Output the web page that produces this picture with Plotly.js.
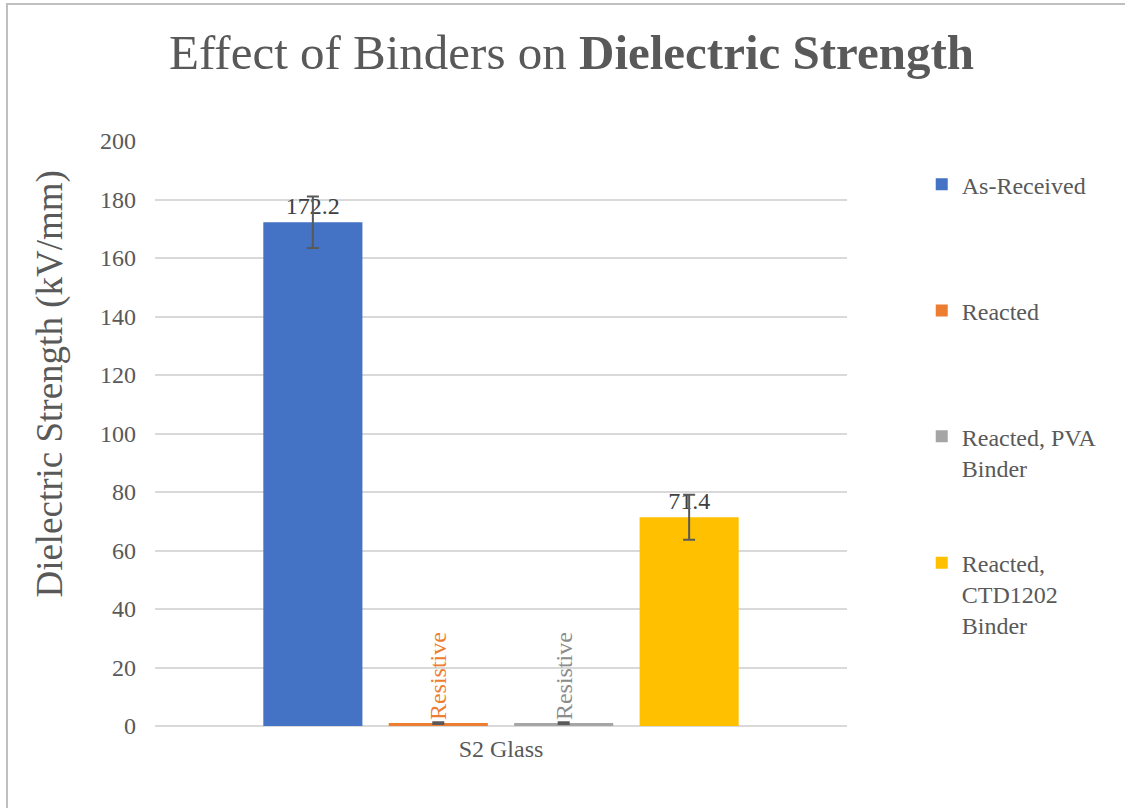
<!DOCTYPE html>
<html>
<head>
<meta charset="utf-8">
<script src="https://cdn.plot.ly/plotly-3.0.1.min.js"></script>
<style>
  html, body { margin: 0; padding: 0; background: #ffffff; overflow: hidden; }
  #chart { width: 1125px; height: 808px; }
  #frame { position: absolute; left: 6px; top: 3px; width: 1300px; height: 1000px;
           border: 2px solid #bfbfbf; pointer-events: none; box-sizing: border-box; }
</style>
</head>
<body>
<div id="chart"></div>
<div id="frame"></div>
<script>
// ---- data ----
const categories = ['S2 Glass'];
const seriesNames = ['As-Received', 'Reacted', 'Reacted, PVA<br>Binder', 'Reacted,<br>CTD1202<br>Binder'];
const seriesValues = [172.2, 1.0, 1.0, 71.4];
const seriesErrors = [8.8, 0.3, 0.3, 7.7];
const seriesLabels = ['172.2', 'Resistive', 'Resistive', '71.4'];
const yTickValues = [0, 20, 40, 60, 80, 100, 120, 140, 160, 180, 200];

// ---- styles ----
const colors = ['#4472C4', '#ED7D31', '#A5A5A5', '#FFC000'];
const labelColors = ['#404040', '#ED7D31', '#8c8c8c', '#404040'];
const labelAngles = [0, -90, -90, 0];
const legendIds = ['legend', 'legend2', 'legend3', 'legend4'];
const FONT = 'Liberation Serif';
const TXT = '#595959';

const traces = seriesNames.map((name, i) => ({
  type: 'bar',
  name: name,
  x: categories,
  y: [seriesValues[i]],
  text: [seriesLabels[i]],
  textposition: 'outside',
  textangle: labelAngles[i],
  cliponaxis: false,
  textfont: { family: FONT, size: 24, color: labelColors[i] },
  marker: { color: colors[i] },
  error_y: { type: 'data', array: [seriesErrors[i]], visible: true, color: '#595959', thickness: 2, width: 6 },
  legend: legendIds[i],
  hoverinfo: 'none'
}));

const legendX = 1.108;
const legendYs = [0.964, 0.748, 0.533, 0.317];
const legendBase = (y) => ({
  x: legendX, y: y, xanchor: 'left', yanchor: 'top',
  font: { family: FONT, size: 24, color: TXT },
  bgcolor: 'rgba(0,0,0,0)', borderwidth: 0, valign: 'top', itemwidth: 30
});

const layout = {
  width: 1125, height: 808,
  paper_bgcolor: '#ffffff', plot_bgcolor: '#ffffff',
  margin: { l: 155, r: 278, t: 141, b: 82 },
  title: {
    text: 'Effect of Binders on <b>Dielectric Strength</b>',
    font: { family: FONT, size: 49, color: TXT },
    xref: 'container', x: 0.508, xanchor: 'center',
    yref: 'container', y: 0.936, yanchor: 'middle'
  },
  barmode: 'group',
  bargap: 0.275,
  bargroupgap: 0.21,
  showlegend: true,
  legend: legendBase(legendYs[0]),
  legend2: legendBase(legendYs[1]),
  legend3: legendBase(legendYs[2]),
  legend4: legendBase(legendYs[3]),
  xaxis: {
    type: 'category',
    showgrid: false, zeroline: false, showline: false, ticks: '',
    tickfont: { family: FONT, size: 24, color: TXT },
    ticklabelstandoff: 6,
    fixedrange: true
  },
  yaxis: {
    range: [0, 200],
    tickvals: yTickValues,
    ticktext: yTickValues.map(String),
    showgrid: true, gridcolor: '#d9d9d9', gridwidth: 1.5,
    zeroline: true, zerolinecolor: '#d9d9d9', zerolinewidth: 1.5,
    showline: false, ticks: '',
    tickfont: { family: FONT, size: 24, color: TXT },
    ticklabelstandoff: 18,
    fixedrange: true
  },
  annotations: [{
    text: 'Dielectric Strength (kV/mm)',
    xref: 'paper', yref: 'paper',
    x: -0.152, y: 0.585, xanchor: 'center', yanchor: 'middle',
    textangle: -90, showarrow: false,
    font: { family: FONT, size: 37, color: TXT }
  }]
};

Plotly.newPlot('chart', traces, layout, { displayModeBar: false });
</script>
</body>
</html>
